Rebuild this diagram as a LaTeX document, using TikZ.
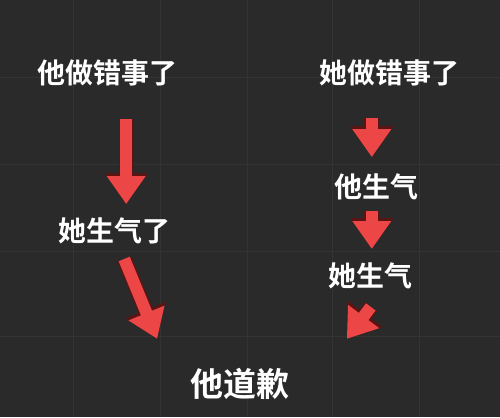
\documentclass[tikz,border=0pt]{standalone}
\usepackage{fontspec}
\newfontfamily\cjk{Noto Sans CJK SC}[BoldFont={Noto Sans CJK SC Bold}]
\usetikzlibrary{arrows.meta}
\definecolor{board}{RGB}{42,42,42}
\definecolor{gridline}{RGB}{52,52,52}
\definecolor{arrowred}{RGB}{236,70,70}
\definecolor{arrowrim}{RGB}{90,20,20}

\begin{document}
\begin{tikzpicture}[x=1pt,y=-1pt]
			\tikzstyle{word} = [text=white, font=\cjk\bfseries\fontsize{28}{30}\selectfont, inner sep=0pt]
			\tikzstyle{bigword} = [word, font=\cjk\bfseries\fontsize{33}{36}\selectfont]
			\tikzstyle{rim} = [draw=arrowrim, line width=15pt, -{Triangle[width=41pt,length=31pt]}]
			\tikzstyle{redline} = [draw=arrowred, line width=12pt, -{Triangle[width=37pt,length=28pt]}]

			% board
			\fill[board] (0,0) rectangle (500,417);
			\foreach \gx in {73,160,247,333,420}
				\draw[gridline, line width=0.8pt] (\gx,0) -- (\gx,417);
			\foreach \gy in {77,164,251,337}
				\draw[gridline, line width=0.8pt] (0,\gy) -- (500,\gy);
			\useasboundingbox (0,0) rectangle (500,417);

			% left column
			\node(HeWrong)[word] at (107,73) {他做错事了};
			\node(SheAngryL)[word] at (114,231) {她生气了};
			\node(Apology)[bigword] at (240,384) {他道歉};

			% right column
			\node(SheWrong)[word] at (390,73) {她做错事了};
			\node(HeAngry)[word] at (377,187) {他生气};
			\node(SheAngryR)[word] at (371,276) {她生气};

			% arrow ends
			\coordinate(a1s) at (126,119);
			\coordinate(a1e) at (126,204);
			\coordinate(a2s) at (124,259);
			\coordinate(a2e) at (157,339);
			\coordinate(b1s) at (372,118);
			\coordinate(b1e) at (372,157);
			\coordinate(b2s) at (372,211);
			\coordinate(b2e) at (372,249);
			\coordinate(b3s) at (371,307);
			\coordinate(b3e) at (347,339);

			\foreach \s/\e in {a1s/a1e,a2s/a2e,b1s/b1e,b2s/b2e,b3s/b3e}
				\draw[rim] (\s) -- (\e);
			\foreach \s/\e in {a1s/a1e,a2s/a2e,b1s/b1e,b2s/b2e,b3s/b3e}
				\draw[redline] (\s) -- (\e);

		\end{tikzpicture}
\end{document}
